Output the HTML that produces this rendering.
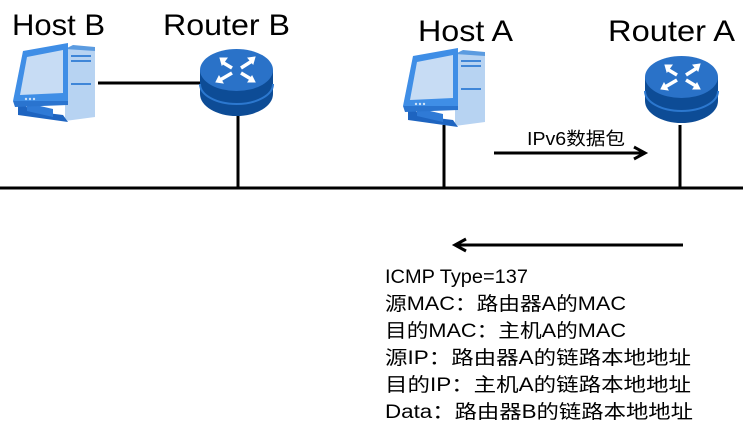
<!DOCTYPE html>
<html><head><meta charset="utf-8"><style>
html,body{margin:0;padding:0;background:#fff;}
svg{display:block;}
text{font-family:"Liberation Sans","Noto Sans CJK SC",sans-serif;fill:#000;}
</style></head><body>
<svg width="743" height="443" viewBox="0 0 743 443" xmlns="http://www.w3.org/2000/svg">
<defs>
<g id="pc">
  <polygon points="52,6 82,4 82,74 52,78" fill="#b7d3f2"/>
  <polygon points="52,6 60,2 82,4 82,8" fill="#5b9be0"/>
  <rect x="58" y="12" width="20" height="2" fill="#3f86d8"/>
  <rect x="58" y="17" width="20" height="2" fill="#3f86d8"/>
  <rect x="58" y="40" width="20" height="2" fill="#3f86d8"/>
  <polygon points="5,56 18,68 50,72 55,79 5,72" fill="#1e64c0"/>
  <polygon points="14,60 40,66 40,74 14,68" fill="#2f7ad6"/>
  <polygon points="10,8 55,0 55,58 0,58" fill="#3f8ee6"/>
  <polygon points="14,14 50,7 50,50 7,52" fill="#c7dcf4"/>
  <polygon points="0,58 55,58 55,62 2,64" fill="#2a74cf"/>
  <circle cx="13" cy="56" r="1.2" fill="#cfe2f7"/><circle cx="17" cy="56" r="1.2" fill="#cfe2f7"/><circle cx="21" cy="56" r="1.2" fill="#cfe2f7"/>
</g>
<g id="rt">
  <path d="M0,22 L0,46 A36.5,22 0 0 0 73,46 L73,22 Z" fill="#0d4c96"/>
  <path d="M0,36 A36.5,20 0 0 0 73,36" fill="none" stroke="#2c78cf" stroke-width="2"/>
  <ellipse cx="36.5" cy="22" rx="36.5" ry="21" fill="#2a72c8"/>
  <g stroke="#fff" stroke-width="3.5" fill="#fff">
    <line x1="22" y1="14" x2="32" y2="20"/><polygon points="20,10 27,10 22,17" stroke-width="1"/>
    <line x1="41" y1="20" x2="52" y2="13"/><polygon points="55,9 48,10 53,16" stroke-width="1"/>
    <line x1="32" y1="25" x2="20" y2="32"/><polygon points="16,34 23,35 19,28" stroke-width="1"/>
    <line x1="41" y1="25" x2="51" y2="31"/><polygon points="55,34 48,34 52,28" stroke-width="1"/>
  </g>
</g>
</defs>
<text x="12" y="35" font-size="30" textLength="93" lengthAdjust="spacingAndGlyphs">Host B</text>
<text x="163" y="35" font-size="30" textLength="127" lengthAdjust="spacingAndGlyphs">Router B</text>
<text x="418" y="41" font-size="30" textLength="95" lengthAdjust="spacingAndGlyphs">Host A</text>
<text x="608" y="41" font-size="30" textLength="127" lengthAdjust="spacingAndGlyphs">Router A</text>
<line x1="98" y1="83" x2="202" y2="83" stroke="#000" stroke-width="3"/>
<line x1="238" y1="115" x2="238" y2="188" stroke="#000" stroke-width="3"/>
<line x1="444" y1="125" x2="444" y2="188" stroke="#000" stroke-width="3"/>
<line x1="680" y1="125" x2="680" y2="188" stroke="#000" stroke-width="3"/>
<line x1="0" y1="188" x2="743" y2="188" stroke="#000" stroke-width="3"/>
<use href="#pc" x="13" y="43"/>
<use href="#pc" x="403" y="48"/>
<use href="#rt" x="200" y="48"/>
<use href="#rt" x="645" y="55"/>
<text x="527" y="145" font-size="18" textLength="98" lengthAdjust="spacingAndGlyphs">IPv6数据包</text>
<line x1="494" y1="153" x2="644" y2="153" stroke="#000" stroke-width="3"/>
<polyline points="634,147 645,153 634,159" fill="none" stroke="#000" stroke-width="3"/>
<line x1="456" y1="245" x2="683" y2="245" stroke="#000" stroke-width="3"/>
<polyline points="466,239 455,245 466,251" fill="none" stroke="#000" stroke-width="3"/>
<g font-size="19" lengthAdjust="spacingAndGlyphs">
<text x="385" y="283" textLength="143" lengthAdjust="spacingAndGlyphs">ICMP Type=137</text>
<text x="385" y="310" textLength="241" lengthAdjust="spacingAndGlyphs">源MAC：路由器A的MAC</text>
<text x="385" y="337" textLength="241" lengthAdjust="spacingAndGlyphs">目的MAC：主机A的MAC</text>
<text x="385" y="364" textLength="306" lengthAdjust="spacingAndGlyphs">源IP：路由器A的链路本地地址</text>
<text x="385" y="391" textLength="306" lengthAdjust="spacingAndGlyphs">目的IP：主机A的链路本地地址</text>
<text x="385" y="418" textLength="308" lengthAdjust="spacingAndGlyphs">Data：路由器B的链路本地地址</text>
</g>
</svg>
</body></html>
